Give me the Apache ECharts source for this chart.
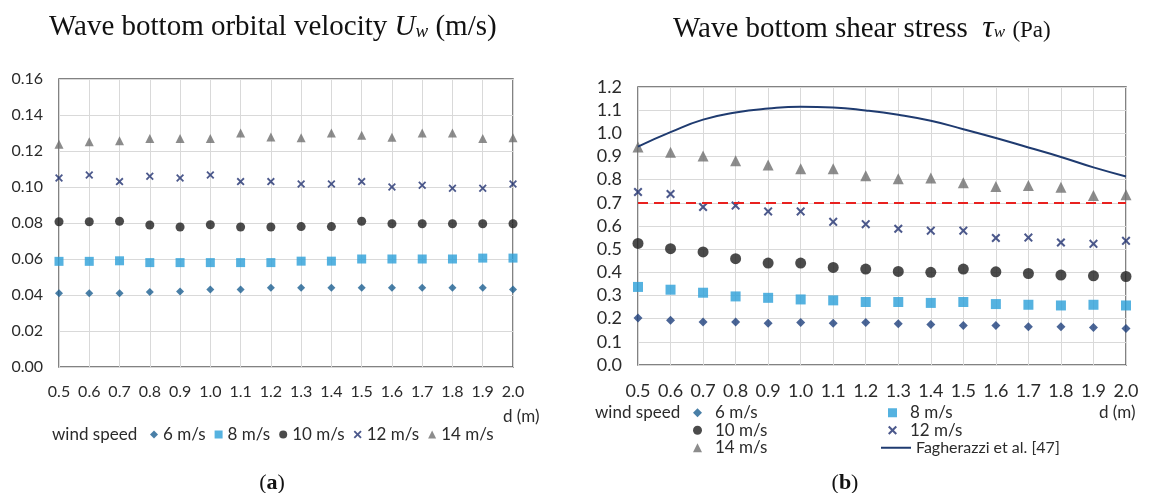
<!DOCTYPE html>
<html>
<head>
<meta charset="utf-8">
<script src="https://cdn.jsdelivr.net/npm/echarts@6/dist/echarts.min.js"></script>
<style>
  html, body { margin: 0; padding: 0; background: #fff; }
  #main { width: 1149px; height: 493px; }
</style>
</head>
<body>
<div id="main"></div>
<script>
// water depth d (m)
var depth = [0.5, 0.6, 0.7, 0.8, 0.9, 1.0, 1.1, 1.2, 1.3, 1.4, 1.5, 1.6, 1.7, 1.8, 1.9, 2.0];
var windNames = ['6 m/s', '8 m/s', '10 m/s', '12 m/s', '14 m/s'];

// (a) wave bottom orbital velocity Uw (m/s)
var uw6  = [0.041, 0.041, 0.041, 0.0416, 0.042, 0.043, 0.043, 0.044, 0.044, 0.044, 0.044, 0.044, 0.044, 0.044, 0.044, 0.043];
var uw8  = [0.0587, 0.0587, 0.059, 0.058, 0.058, 0.058, 0.058, 0.058, 0.0588, 0.0588, 0.060, 0.060, 0.060, 0.060, 0.0605, 0.0605];
var uw10 = [0.0807, 0.0807, 0.081, 0.0789, 0.0778, 0.079, 0.0778, 0.0778, 0.078, 0.078, 0.081, 0.0796, 0.0796, 0.0796, 0.0796, 0.0796];
var uw12 = [0.105, 0.1067, 0.103, 0.106, 0.105, 0.1067, 0.103, 0.103, 0.1017, 0.1017, 0.103, 0.100, 0.101, 0.0993, 0.0993, 0.1017];
var uw14 = [0.1237, 0.1252, 0.1257, 0.127, 0.127, 0.127, 0.130, 0.1278, 0.1274, 0.130, 0.1287, 0.1276, 0.130, 0.130, 0.127, 0.1274];

// (b) wave bottom shear stress tau_w (Pa)
var tau6  = [0.203, 0.193, 0.186, 0.186, 0.180, 0.183, 0.180, 0.183, 0.178, 0.175, 0.171, 0.170, 0.165, 0.165, 0.162, 0.158];
var tau8  = [0.337, 0.325, 0.312, 0.296, 0.290, 0.283, 0.279, 0.272, 0.272, 0.268, 0.272, 0.263, 0.260, 0.257, 0.260, 0.257];
var tau10 = [0.525, 0.502, 0.488, 0.459, 0.440, 0.440, 0.421, 0.414, 0.404, 0.400, 0.414, 0.402, 0.395, 0.388, 0.385, 0.382];
var tau12 = [0.747, 0.738, 0.682, 0.688, 0.663, 0.663, 0.618, 0.608, 0.588, 0.580, 0.580, 0.548, 0.550, 0.529, 0.523, 0.536];
var tau14 = [0.941, 0.918, 0.902, 0.882, 0.863, 0.847, 0.847, 0.817, 0.804, 0.807, 0.787, 0.770, 0.775, 0.767, 0.732, 0.735];
var fagherazzi = [0.943, 1.005, 1.059, 1.090, 1.107, 1.115, 1.112, 1.099, 1.080, 1.054, 1.018, 0.980, 0.939, 0.898, 0.853, 0.814];
var criticalStress = 0.7;

var LABEL_FONT = 'Lato';
var SERIF = '"Liberation Serif", "DejaVu Serif", serif';
var xMark = 'path://M0,1.6L1.6,0L5,3.4L8.4,0L10,1.6L6.6,5L10,8.4L8.4,10L5,6.6L1.6,10L0,8.4L3.4,5Z';

var colorsA = ['#1c5f91', '#2a9fd8', '#1e1e1e', '#1f2f6f', '#6f6f6f'];
var colorsB = ['#1d3f7c', '#2a9fd8', '#1e1e1e', '#1f2f6f', '#6f6f6f'];
var symbols = ['diamond', 'rect', 'circle', xMark, 'triangle'];

function pairs(arr) {
    return depth.map(function (d, i) { return [d, arr[i]]; });
}

function xAxisOf(grid, size) {
    return {
        type: 'value', gridIndex: grid, min: 0.5, max: 2.0, interval: 0.1,
        axisLine: { show: false },
        axisTick: { show: false },
        splitLine: { lineStyle: { color: '#d9d9d9' } },
        axisLabel: {
            margin: 17, color: '#2b2b2b', fontFamily: LABEL_FONT, fontSize: size,
            formatter: function (v) { return v.toFixed(1); }
        }
    };
}

var series = [];
var uwData = [uw6, uw8, uw10, uw12, uw14];
var tauData = [tau6, tau8, tau10, tau12, tau14];
var sizesA = [8, 9, 9, 8, 9];
var sizesB = [9, 10, 11, 9, 11];
windNames.forEach(function (name, i) {
    series.push({
        name: name, type: 'scatter', xAxisIndex: 0, yAxisIndex: 0,
        symbol: symbols[i], symbolSize: sizesA[i],
        itemStyle: { color: colorsA[i] },
        data: pairs(uwData[i])
    });
});
windNames.forEach(function (name, i) {
    series.push({
        name: name, type: 'scatter', xAxisIndex: 1, yAxisIndex: 1,
        symbol: symbols[i], symbolSize: sizesB[i],
        itemStyle: { color: colorsB[i] },
        data: pairs(tauData[i])
    });
});
series.push({
    name: 'Fagherazzi et al. [47]', type: 'line', xAxisIndex: 1, yAxisIndex: 1,
    symbol: 'none', smooth: true,
    lineStyle: { color: '#1f3b70', width: 2 },
    itemStyle: { color: '#1f3b70' },
    data: pairs(fagherazzi),
    markLine: {
        silent: true, symbol: 'none', label: { show: false },
        lineStyle: { color: '#e8211f', type: [10, 6], width: 2 },
        data: [{ yAxis: criticalStress }]
    }
});

var legendText = { fontFamily: LABEL_FONT, fontSize: 17, color: '#2b2b2b' };
var colText = { fontFamily: LABEL_FONT, fontSize: 17, color: '#2b2b2b', lineHeight: 17.5, padding: [0, 0, 0, 8] };

function label(text, x, y, align) {
    return {
        type: 'text', x: x, y: y,
        style: { text: text, font: '17px Lato', fill: '#2b2b2b', align: align || 'left', verticalAlign: 'middle' }
    };
}
function panelTag(letter, x) {
    return {
        type: 'text', x: x, y: 483,
        style: {
            text: '({b|' + letter + '})', font: '22px "Liberation Serif"', fill: '#111',
            align: 'center', verticalAlign: 'middle',
            rich: { b: { fontFamily: 'Liberation Serif', fontSize: 22, fontWeight: 'bold', fill: '#111' } }
        }
    };
}

var myChart = echarts.init(document.getElementById('main'));
var option = {
    animation: false,
    backgroundColor: '#fff',
    title: [
        {
            text: 'Wave bottom orbital velocity {u|U}{w|w} (m/s)',
            left: 44, top: 8,
            textStyle: {
                fontFamily: SERIF, fontSize: 29, fontWeight: 'normal', color: '#111',
                rich: {
                    u: { fontFamily: SERIF, fontSize: 29, fontStyle: 'italic', color: '#111' },
                    w: { fontFamily: SERIF, fontSize: 19, fontStyle: 'italic', color: '#111', padding: [8, 0, 0, 0] }
                }
            }
        },
        {
            text: 'Wave bottom shear stress  {t|τ}{w|w} {p|(Pa)}',
            left: 668, top: 8,
            textStyle: {
                fontFamily: SERIF, fontSize: 29, fontWeight: 'normal', color: '#111',
                rich: {
                    t: { fontFamily: SERIF, fontSize: 32, fontStyle: 'italic', color: '#111' },
                    w: { fontFamily: SERIF, fontSize: 17, fontStyle: 'italic', color: '#111', padding: [8, 0, 0, 0] },
                    p: { fontFamily: SERIF, fontSize: 23, color: '#111', padding: [3, 0, 0, 0] }
                }
            }
        }
    ],
    grid: [
        { left: 59, top: 79, width: 454, height: 288, show: true, borderColor: '#5a5a5a', borderWidth: 1.5 },
        { left: 638, top: 87, width: 488, height: 278, show: true, borderColor: '#5a5a5a', borderWidth: 1.5 }
    ],
    xAxis: [xAxisOf(0, 16), xAxisOf(1, 18)],
    yAxis: [
        {
            type: 'value', gridIndex: 0, min: 0, max: 0.16, interval: 0.02,
            axisLine: { show: false }, axisTick: { show: false },
            splitLine: { lineStyle: { color: '#d9d9d9' } },
            axisLabel: {
                margin: 16, color: '#2b2b2b', fontFamily: LABEL_FONT, fontSize: 16,
                formatter: function (v) { return v.toFixed(2); }
            }
        },
        {
            type: 'value', gridIndex: 1, min: 0, max: 1.2, interval: 0.1,
            axisLine: { show: false }, axisTick: { show: false },
            splitLine: { lineStyle: { color: '#d9d9d9' } },
            axisLabel: {
                margin: 16, color: '#2b2b2b', fontFamily: LABEL_FONT, fontSize: 18,
                formatter: function (v) { return v.toFixed(1); }
            }
        }
    ],
    legend: [
        {
            data: windNames, left: 150, top: 426, orient: 'horizontal', padding: 0,
            itemWidth: 8, itemHeight: 8, itemGap: 9,
            textStyle: legendText, selectedMode: false
        },
        {
            data: ['6 m/s', '10 m/s', '14 m/s'], left: 693, top: 404, orient: 'vertical', padding: 0,
            itemWidth: 9, itemHeight: 9, itemGap: 0,
            textStyle: colText, selectedMode: false
        },
        {
            data: ['8 m/s', '12 m/s'], left: 888, top: 404, orient: 'vertical', padding: 0,
            itemWidth: 9, itemHeight: 9, itemGap: 0,
            textStyle: colText, selectedMode: false
        },
        {
            data: [{ name: 'Fagherazzi et al. [47]', icon: 'rect' }], left: 881, top: 439, orient: 'vertical', padding: 0,
            itemWidth: 30, itemHeight: 2, itemGap: 0,
            textStyle: Object.assign({}, colText, { padding: 0, fontSize: 16 }), selectedMode: false
        }
    ],
    graphic: [
        label('wind speed', 52, 435),
        label('d (m)', 503, 417),
        label('wind speed', 595, 413),
        label('d (m)', 1099, 413),
        panelTag('a', 272),
        panelTag('b', 845)
    ],
    series: series
};

myChart.setOption(option);
</script>
</body>
</html>
